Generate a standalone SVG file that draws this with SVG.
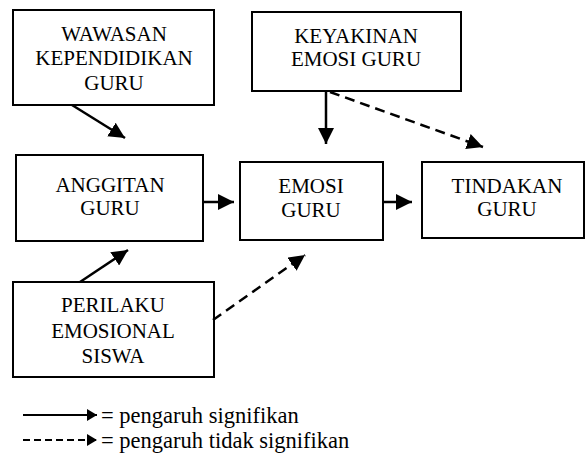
<svg xmlns="http://www.w3.org/2000/svg" width="586" height="457" viewBox="0 0 586 457">
<style>
  .box { fill: #fff; stroke: #000; stroke-width: 2; }
  .t { font-family: "Liberation Serif", "Times New Roman", serif; font-size: 21px; fill: #000; text-anchor: middle; }
  .lg { font-family: "Liberation Serif", "Times New Roman", serif; font-size: 22.5px; fill: #000; }
  .s { stroke: #000; stroke-width: 2.5; fill: none; }
  .d { stroke: #000; stroke-width: 2.5; fill: none; stroke-dasharray: 10 6; }
  .ls { stroke: #000; stroke-width: 2; fill: none; }
  .ld { stroke: #000; stroke-width: 2; fill: none; stroke-dasharray: 7 4; }
</style>
<defs>
  <marker id="ah" markerUnits="userSpaceOnUse" markerWidth="17" markerHeight="16" refX="16" refY="8" orient="auto">
    <path d="M0,0 L16,8 L0,16 z" fill="#000"/>
  </marker>
  <marker id="ahs" markerUnits="userSpaceOnUse" markerWidth="11" markerHeight="12" refX="10" refY="6" orient="auto">
    <path d="M0,0 L10,6 L0,12 z" fill="#000"/>
  </marker>
</defs>

<g id="wawasan">
  <rect class="box" x="13" y="10" width="201" height="95"/>
  <text class="t" x="114" y="41">WAWASAN</text>
  <text class="t" x="114" y="65">KEPENDIDIKAN</text>
  <text class="t" x="114" y="90">GURU</text>
</g>
<g id="keyakinan">
  <rect class="box" x="252" y="12" width="209" height="79"/>
  <text class="t" x="356" y="43">KEYAKINAN</text>
  <text class="t" x="356" y="66">EMOSI GURU</text>
</g>
<g id="anggitan">
  <rect class="box" x="16" y="155" width="187" height="86"/>
  <text class="t" x="110" y="192">ANGGITAN</text>
  <text class="t" x="110" y="215">GURU</text>
</g>
<g id="emosi">
  <rect class="box" x="240" y="162" width="143" height="78"/>
  <text class="t" x="311" y="193">EMOSI</text>
  <text class="t" x="311" y="217">GURU</text>
</g>
<g id="tindakan">
  <rect class="box" x="422" y="162" width="162" height="76"/>
  <text class="t" x="507" y="193">TINDAKAN</text>
  <text class="t" x="507" y="216">GURU</text>
</g>
<g id="perilaku">
  <rect class="box" x="13" y="282" width="201" height="95"/>
  <text class="t" x="113" y="312">PERILAKU</text>
  <text class="t" x="113" y="338">EMOSIONAL</text>
  <text class="t" x="113" y="363">SISWA</text>
</g>

<g id="connectors">
  <line class="s" x1="72" y1="105" x2="125" y2="138" marker-end="url(#ah)"/>
  <line class="s" x1="80" y1="282" x2="128" y2="250" marker-end="url(#ah)"/>
  <line class="s" x1="203" y1="202" x2="234" y2="202" marker-end="url(#ah)"/>
  <line class="s" x1="326" y1="91" x2="326" y2="144" marker-end="url(#ah)"/>
  <line class="d" x1="330" y1="92" x2="483" y2="147" marker-end="url(#ah)"/>
  <line class="d" x1="213" y1="320" x2="305" y2="255" marker-end="url(#ah)"/>
  <line class="s" x1="383" y1="202" x2="412" y2="202" marker-end="url(#ah)"/>
</g>

<g id="legend">
  <line class="ls" x1="23" y1="415" x2="97" y2="415" marker-end="url(#ahs)"/>
  <text class="lg" x="101" y="423">= pengaruh signifikan</text>
  <line class="ld" x1="23" y1="440" x2="97" y2="440" marker-end="url(#ahs)"/>
  <text class="lg" x="101" y="448">= pengaruh tidak signifikan</text>
</g>
</svg>
